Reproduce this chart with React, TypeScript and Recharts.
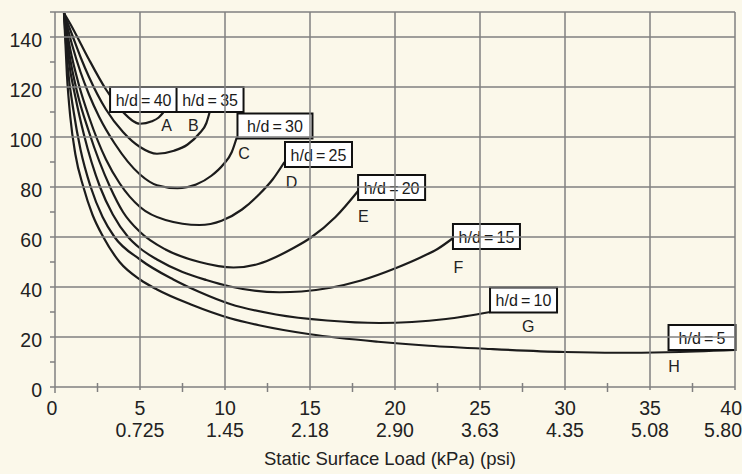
import React from 'react';
import { LineChart, Line, XAxis, YAxis, ReferenceDot } from 'recharts';

type P = { x: number; y: number };
const pts = (a: number[][]): P[] => a.map(([x, y]) => ({ x, y }));

// Curves A..H (x: static surface load kPa, y: value)
const curveA = pts([[0.53,149.5],[1,144],[1.5,137.5],[2,131],[3,119],[4,110],[5,105.3],[5.7,106.3],[6.1,107.8],[6.37,109.8]]);
const curveB = pts([[0.53,149.5],[1,141],[1.5,132],[2,124],[3,111],[4,102],[5,96],[6,93.3],[7,94.5],[7.8,97],[8.5,101.5],[8.9,105.5],[9.1,110]]);
const curveC = pts([[0.53,149.5],[1,137],[1.5,126],[2,117],[2.6,108],[3.5,97.5],[5,85],[6,80.7],[7.2,79.5],[8.3,81],[9.2,84.5],[9.9,89],[10.4,94],[10.7,100]]);
const curveD = pts([[0.53,149.5],[0.9,135],[1.4,121],[2,108],[3,91],[3.8,81.5],[5,72],[6.5,66.8],[8.5,64.8],[9.8,66.5],[11,71],[12,77],[12.8,83],[13.5,90]]);
const curveE = pts([[0.53,149.5],[0.85,133],[1.3,118],[2,102],[3.24,80],[4,70],[5,62],[6.5,55],[8.5,50],[10.5,47.8],[12,49.3],[13,52],[14,55.5],[15,59.5],[16.5,68],[17.9,79]]);
const curveF = pts([[0.53,149.5],[0.8,131],[1.2,116],[1.7,101],[2.65,80],[3.4,69],[4.3,60],[5,55.5],[6,51],[7.5,46],[8.9,42.8],[10.3,40.2],[13.2,37.9],[14.5,38.2],[16.2,39.7],[18,42.6],[20.1,47.7],[21.5,51.8],[22.5,55.2],[23.4,59.5]]);
const curveG = pts([[0.53,149.5],[0.75,128],[1.1,110],[1.5,95],[2.1,80],[2.8,68],[3.5,60],[5,51],[6.96,43],[8.5,38],[10.3,33.2],[13,29],[16,26.6],[19.1,25.6],[21,26],[23,27.2],[25.6,30]]);
const curveH = pts([[0.53,149.5],[0.7,125],[0.9,108],[1.2,93],[1.67,80],[2.2,69],[2.84,60],[3.8,50],[5,43],[6,39],[8,33],[10.3,27.5],[12,24.7],[15,21.1],[19,18.1],[22,16.5],[25.6,15.2],[30,14],[33,13.7],[36,13.9],[40,14.8]]);
const curves = [curveA, curveB, curveC, curveD, curveE, curveF, curveG, curveH];

// Box labels (h/d) : centre positions in data units
const boxText = ['h/d = 40', 'h/d = 35', 'h/d = 30', 'h/d = 25', 'h/d = 20', 'h/d = 15', 'h/d = 10', 'h/d = 5'];
const boxX = [5.21, 9.12, 12.94, 15.5, 19.8, 25.38, 27.56, 38.06];
const boxY = [115, 115, 104.4, 93, 79.8, 60.2, 34.8, 19.8];
const boxW = [67, 67, 75, 67, 67, 67, 67, 67];

// Letter labels
const letters = ['A', 'B', 'C', 'D', 'E', 'F', 'G', 'H'];
const letterX = [6.57, 8.14, 11.12, 13.92, 18.14, 23.73, 27.84, 36.41];
const letterY = [104.8, 104.8, 93.5, 82.1, 68.4, 48.1, 24.4, 8.4];

// Axis ticks
const xMajor = [0, 5, 10, 15, 20, 25, 30, 35, 40];
const xPsi = ['', '0.725', '1.45', '2.18', '2.90', '3.63', '4.35', '5.08', '5.80'];
const xMinor = [2.5, 7.5, 12.5, 17.5, 22.5, 27.5, 32.5, 37.5];
const yMajor = [0, 20, 40, 60, 80, 100, 120, 140];
const yMinor = [10, 30, 50, 70, 90, 110, 130];
const yTop = [150];

// layout
const W = 742;
const H = 474;
const M = { top: 12, right: 7, left: 0, bottom: 0 };
const Y_W = 55;
const X_H = 87;
const PLOT_W = W - M.left - M.right - Y_W;
const PLOT_H = H - M.top - M.bottom - X_H;
const TICK_LEN = 5;
const TICK_GAP = 8;

const BG = '#fbf8ea';
const GRID = '#808080';
const INK = '#1c1c1c';
const FONT = '"Liberation Sans", Arial, Helvetica, sans-serif';
const TICK_FS = 19.5;
const GW = 1.5;

const XTick = (props: any) => {
  const { x, y, payload } = props;
  const v = payload.value;
  const i = xMajor.indexOf(v);
  if (i < 0) {
    return <line x1={x} x2={x} y1={y - 4} y2={y + 5} stroke={GRID} strokeWidth={GW} />;
  }
  const last = i === xMajor.length - 1;
  const tx = last ? x + 7 : v === 0 ? x - 3 : x;
  const anchor = last ? 'end' : 'middle';
  return (
    <g>
      {v !== 0 ? <line x1={x} x2={x} y1={y + 3} y2={y - PLOT_H} stroke={GRID} strokeWidth={GW} /> : null}
      {v === 0 ? <line x1={x} x2={x} y1={y} y2={y + 6} stroke={GRID} strokeWidth={GW} /> : null}
      <text x={tx} y={y + 28} textAnchor={anchor} fontSize={TICK_FS} fill="#222" fontFamily={FONT}>{v}</text>
      {xPsi[i] ? (
        <text x={tx} y={y + 50} textAnchor={anchor} fontSize={TICK_FS} fill="#222" fontFamily={FONT}>{xPsi[i]}</text>
      ) : null}
    </g>
  );
};

const YTick = (props: any) => {
  const { x, y, payload } = props;
  const v = payload.value;
  const axisX = x + TICK_LEN + TICK_GAP;
  const isMajor = yMajor.indexOf(v) >= 0;
  const isGrid = (isMajor && v !== 0) || yTop.indexOf(v) >= 0;
  return (
    <g>
      {isGrid ? <line x1={axisX} x2={axisX + PLOT_W} y1={y} y2={y} stroke={GRID} strokeWidth={GW} /> : null}
      {isMajor ? (
        <text x={x} y={y + 10} textAnchor="end" fontSize={TICK_FS} fill="#222" fontFamily={FONT}>{v}</text>
      ) : null}
    </g>
  );
};

const makeBox = (w: number, label: string) => (props: any) => {
  const { cx, cy } = props;
  return (
    <g>
      <rect x={cx - w / 2} y={cy - 12.5} width={w} height={25} fill="#ffffff" stroke="#111" strokeWidth={2} />
      <text x={cx} y={cy + 6} textAnchor="middle" fontSize={16} fill="#1a1a1a" fontFamily={FONT}>
        {label.replace(/ /g, '\u2009')}
      </text>
    </g>
  );
};

const makeLetter = (label: string) => (props: any) => {
  const { cx, cy } = props;
  return (
    <text x={cx} y={cy + 6} textAnchor="middle" fontSize={16} fill="#222" fontFamily={FONT}>{label}</text>
  );
};

export default function App() {
  return (
    <div style={{ position: 'absolute', left: 0, top: 0, width: W, height: H, background: BG }}>
      <LineChart width={W} height={H} margin={M}>
        <XAxis
          dataKey="x"
          type="number"
          domain={[0, 40]}
          allowDataOverflow
          ticks={[...xMajor, ...xMinor].sort((a, b) => a - b)}
          tick={<XTick />}
          tickLine={false}
          tickSize={0}
          tickMargin={0}
          axisLine={{ stroke: GRID, strokeWidth: GW }}
          height={X_H}
          interval={0}
          label={{ value: 'Static Surface Load (kPa) (psi)', position: 'insideBottom', offset: 9, dx: -5, fontSize: 18.5, fill: '#222', fontFamily: FONT }}
        />
        <YAxis
          type="number"
          domain={[0, 150]}
          allowDataOverflow
          ticks={[...yMajor, ...yMinor, ...yTop].sort((a, b) => a - b)}
          tick={<YTick />}
          tickLine={{ stroke: GRID, strokeWidth: GW }}
          tickSize={TICK_LEN}
          tickMargin={TICK_GAP}
          axisLine={{ stroke: GRID, strokeWidth: GW }}
          width={Y_W}
          interval={0}
        />
        {curves.map((c, i) => (
          <Line
            key={i}
            data={c}
            dataKey="y"
            type="monotone"
            stroke={INK}
            strokeWidth={2.2}
            dot={false}
            activeDot={false}
            isAnimationActive={false}
          />
        ))}
        {boxText.map((t, i) => (
          <ReferenceDot key={'b' + i} x={boxX[i]} y={boxY[i]} r={0} shape={makeBox(boxW[i], t)} />
        ))}
        {letters.map((t, i) => (
          <ReferenceDot key={'l' + i} x={letterX[i]} y={letterY[i]} r={0} shape={makeLetter(t)} />
        ))}
      </LineChart>
    </div>
  );
}
